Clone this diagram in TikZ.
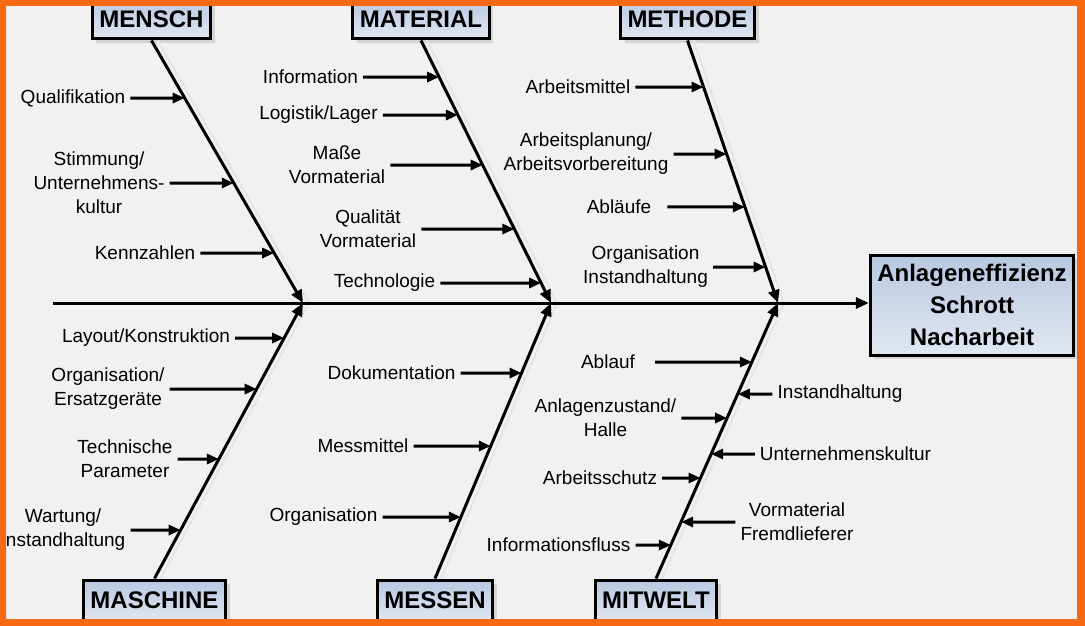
\documentclass[tikz,border=0pt]{standalone}
\usepackage{fontspec}
\setmainfont{Liberation Sans}
\usetikzlibrary{arrows.meta}
\usetikzlibrary{shadows}

\definecolor{rahmen}{HTML}{F86914}
\definecolor{grund}{HTML}{F1F1F1}
\definecolor{kastenoben}{HTML}{B8C8E1}
\definecolor{kastenunten}{HTML}{E1E7F1}

\tikzset{
	kasten/.style={draw, line width=3pt, top color=kastenoben, bottom color=kastenunten, inner xsep=7pt, minimum height=40pt, font=\fontsize{24}{32}\selectfont\bfseries, drop shadow={shadow xshift=4pt, shadow yshift=-4pt, opacity=.25}},
	grat/.style={line width=3pt, -{Triangle[length=13pt,width=11pt]}, preaction={draw=black!10, line width=2pt, -, transform canvas={xshift=6pt}}},
	zweig/.style={line width=3pt, -{Triangle[length=12pt,width=10pt]}},
	ursache/.style={font=\fontsize{19}{24}\selectfont, align=center, inner sep=5pt},
}

\begin{document}
\begin{tikzpicture}[x=1pt,y=-1pt]

	\useasboundingbox (0,0) rectangle (1085,626);
	\fill[grund] (0,0) rectangle (1085,626);

	%Kopf und Hauptgraete
	\node[kasten, minimum height=100pt, align=center] (effekt) at (972,305) {Anlageneffizienz\\Schrott\\Nacharbeit};
	\coordinate (schwanz) at (53,303);
	\coordinate (j1) at (303,303);
	\coordinate (j2) at (551,303);
	\coordinate (j3) at (778,303);

	%Kategorien
	\node[kasten] (mensch) at (151.5,19) {MENSCH};
	\node[kasten] (material) at (421,19) {MATERIAL};
	\node[kasten] (methode) at (687.5,19) {METHODE};
	\node[kasten] (maschine) at (154.5,600) {MASCHINE};
	\node[kasten] (messen) at (435,600) {MESSEN};
	\node[kasten] (mitwelt) at (656,600) {MITWELT};

	\draw[grat] (mensch.south) -- (j1);
	\draw[grat] (material.south) -- (j2);
	\draw[grat] (methode.south) -- (j3);
	\draw[grat] (maschine.north) -- (j1);
	\draw[grat] (messen.north) -- (j2);
	\draw[grat] (mitwelt.north) -- (j3);
	\draw[zweig, -{Triangle[length=13pt,width=11pt]}] (schwanz) -- (schwanz -| effekt.west);

	%Mensch
	\node[ursache] (qualifikation) at (73,98) {Qualifikation};
	\node[ursache] (stimmung) at (99,183) {Stimmung/\\Unternehmens-\\kultur};
	\node[ursache] (kennzahlen) at (145,253) {Kennzahlen};
	\draw[zweig] (qualifikation) -- (intersection of mensch.south--j1 and qualifikation.west--qualifikation.east);
	\draw[zweig] (stimmung) -- (intersection of mensch.south--j1 and stimmung.west--stimmung.east);
	\draw[zweig] (kennzahlen) -- (intersection of mensch.south--j1 and kennzahlen.west--kennzahlen.east);

	%Material
	\node[ursache] (information) at (310.5,77) {Information};
	\node[ursache] (logistik) at (318.5,115) {Logistik/Lager};
	\node[ursache] (masse) at (337,165) {Maße\\Vormaterial};
	\node[ursache] (qualitaet) at (368,229) {Qualität\\Vormaterial};
	\node[ursache] (technologie) at (384.5,283) {Technologie};
	\draw[zweig] (information) -- (intersection of material.south--j2 and information.west--information.east);
	\draw[zweig] (logistik) -- (intersection of material.south--j2 and logistik.west--logistik.east);
	\draw[zweig] (masse) -- (intersection of material.south--j2 and masse.west--masse.east);
	\draw[zweig] (qualitaet) -- (intersection of material.south--j2 and qualitaet.west--qualitaet.east);
	\draw[zweig] (technologie) -- (intersection of material.south--j2 and technologie.west--technologie.east);

	%Methode
	\node[ursache] (arbeitsmittel) at (578,87) {Arbeitsmittel};
	\node[ursache] (planung) at (586,154) {Arbeitsplanung/\\Arbeitsvorbereitung};
	\node[ursache] (ablaeufe) at (619,207) {Abläufe};
	\node[ursache] (organisation) at (645.5,267) {Organisation\\Instandhaltung};
	\draw[zweig] (arbeitsmittel) -- (intersection of methode.south--j3 and arbeitsmittel.west--arbeitsmittel.east);
	\draw[zweig] (planung) -- (intersection of methode.south--j3 and planung.west--planung.east);
	\draw[zweig, shorten <=11pt] (ablaeufe) -- (intersection of methode.south--j3 and ablaeufe.west--ablaeufe.east);
	\draw[zweig] (organisation) -- (intersection of methode.south--j3 and organisation.west--organisation.east);

	%Maschine
	\node[ursache] (layout) at (146,338) {Layout/Konstruktion};
	\node[ursache] (ersatz) at (108,389) {Organisation/\\Ersatzgeräte};
	\node[ursache] (parameter) at (125,459) {Technische\\Parameter};
	\node[ursache] (wartung) at (63,530) {Wartung/\\Instandhaltung};
	\draw[zweig] (layout) -- (intersection of maschine.north--j1 and layout.west--layout.east);
	\draw[zweig] (ersatz) -- (intersection of maschine.north--j1 and ersatz.west--ersatz.east);
	\draw[zweig] (parameter) -- (intersection of maschine.north--j1 and parameter.west--parameter.east);
	\draw[zweig] (wartung) -- (intersection of maschine.north--j1 and wartung.west--wartung.east);

	%Messen
	\node[ursache] (dokumentation) at (391.5,373) {Dokumentation};
	\node[ursache] (messmittel) at (363,446) {Messmittel};
	\node[ursache] (organisation2) at (323.5,517) {Organisation};
	\draw[zweig] (dokumentation) -- (intersection of messen.north--j2 and dokumentation.west--dokumentation.east);
	\draw[zweig] (messmittel) -- (intersection of messen.north--j2 and messmittel.west--messmittel.east);
	\draw[zweig] (organisation2) -- (intersection of messen.north--j2 and organisation2.west--organisation2.east);

	%Mitwelt
	\node[ursache] (ablauf) at (608,362) {Ablauf};
	\node[ursache] (instandhaltung) at (840,394) {Instandhaltung};
	\node[ursache] (anlagenzustand) at (605.5,418) {Anlagenzustand/\\Halle};
	\node[ursache] (kultur) at (845.5,454) {Unternehmenskultur};
	\node[ursache] (arbeitsschutz) at (600,478) {Arbeitsschutz};
	\node[ursache] (fremd) at (797,522) {Vormaterial\\Fremdlieferer};
	\node[ursache] (informationsfluss) at (558.5,545) {Informationsfluss};
	\draw[zweig, shorten <=15pt] (ablauf) -- (intersection of mitwelt.north--j3 and ablauf.west--ablauf.east);
	\draw[zweig] (instandhaltung) -- (intersection of mitwelt.north--j3 and instandhaltung.west--instandhaltung.east);
	\draw[zweig] (anlagenzustand) -- (intersection of mitwelt.north--j3 and anlagenzustand.west--anlagenzustand.east);
	\draw[zweig] (kultur) -- (intersection of mitwelt.north--j3 and kultur.west--kultur.east);
	\draw[zweig] (arbeitsschutz) -- (intersection of mitwelt.north--j3 and arbeitsschutz.west--arbeitsschutz.east);
	\draw[zweig] (fremd) -- (intersection of mitwelt.north--j3 and fremd.west--fremd.east);
	\draw[zweig] (informationsfluss) -- (intersection of mitwelt.north--j3 and informationsfluss.west--informationsfluss.east);

	%Rahmen
	\fill[rahmen, even odd rule] (0,0) rectangle (1085,626) (6,6) rectangle (1077,619);

\end{tikzpicture}
\end{document}
